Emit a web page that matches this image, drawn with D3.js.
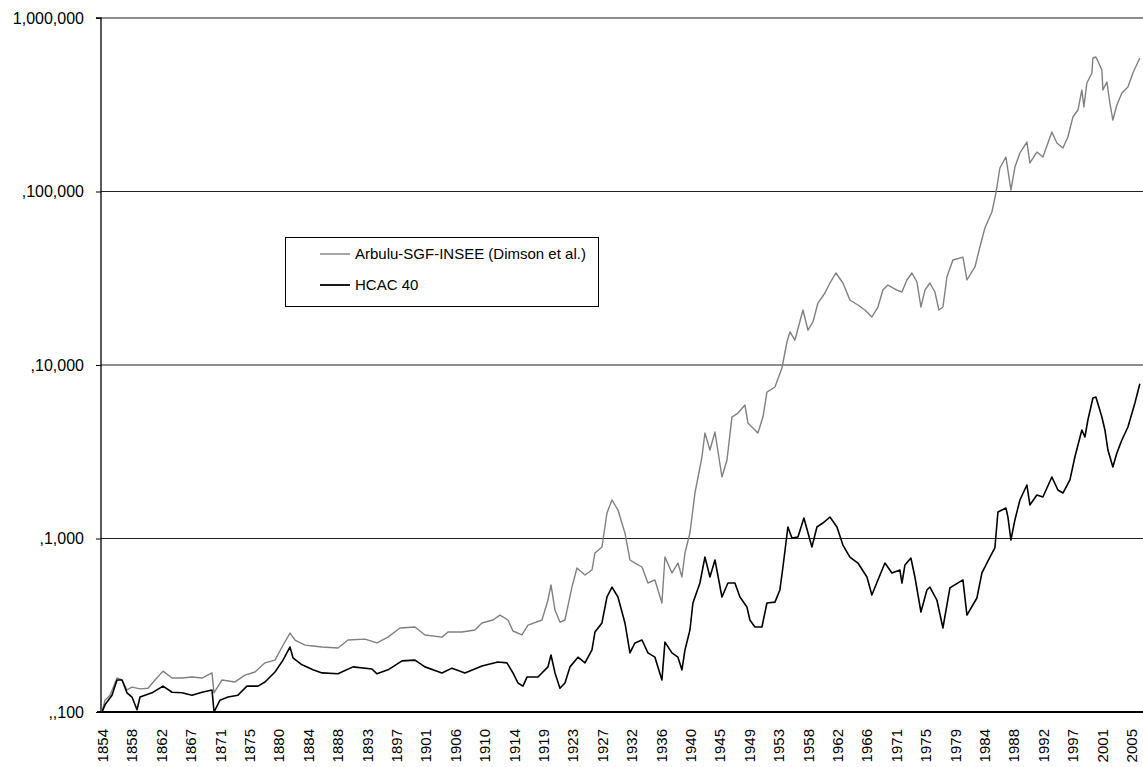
<!DOCTYPE html>
<html><head><meta charset="utf-8">
<script src="https://cdn.jsdelivr.net/npm/d3@7/dist/d3.min.js"></script>
<style>
html,body{margin:0;padding:0;background:#fff;}
svg{display:block;font-family:"Liberation Sans",Arial,sans-serif;}
</style></head>
<body>
<svg id="chart" width="1143" height="767"></svg>
<script>
// ---- DATA ----
const seriesNames = ["Arbulu-SGF-INSEE (Dimson et al.)", "HCAC 40"];
const yTickValues = [1000000, 100000, 10000, 1000, 100];
const yTickLabels = ["1,000,000", ",100,000", ",10,000", ",1,000", ",,100"];
const xTickLabels = ["1854","1858","1862","1867","1871","1875","1880","1884","1888","1893","1897","1901","1906","1910","1914","1919","1923","1927","1932","1936","1940","1945","1949","1953","1958","1962","1966","1971","1975","1979","1984","1988","1992","1997","2001","2005"];

const grayYears = [1854.0,1854.44,1855.18,1856.21,1856.95,1857.68,1858.42,1859.6,1860.78,1861.81,1862.99,1864.32,1865.79,1867.26,1868.74,1870.21,1870.51,1871.69,1873.6,1875.08,1876.55,1878.02,1879.5,1880.53,1881.71,1882.45,1883.92,1885.1,1886.42,1888.78,1890.26,1892.76,1894.53,1896.15,1897.92,1900.13,1901.6,1904.11,1905.0,1907.06,1908.97,1910.0,1911.63,1912.66,1913.84,1914.57,1915.9,1916.79,1918.85,1919.73,1920.18,1920.77,1921.5,1922.24,1923.27,1924.01,1925.19,1926.22,1926.66,1927.69,1928.43,1929.17,1930.05,1931.08,1931.82,1932.56,1933.59,1934.47,1935.5,1936.53,1936.98,1938.01,1938.89,1939.48,1939.93,1940.66,1941.4,1942.43,1942.87,1943.61,1944.35,1945.38,1946.12,1946.85,1947.74,1948.77,1949.21,1950.68,1951.42,1952.01,1953.19,1954.22,1954.96,1955.4,1956.14,1957.32,1958.05,1958.79,1959.53,1960.56,1961.3,1962.18,1963.21,1964.24,1965.42,1966.45,1967.48,1968.37,1969.1,1969.84,1971.17,1971.91,1972.64,1973.38,1974.12,1974.71,1975.3,1976.03,1976.77,1977.36,1977.95,1978.54,1979.42,1980.9,1981.49,1982.67,1983.4,1984.14,1985.17,1985.76,1986.35,1987.24,1987.97,1988.56,1989.3,1990.33,1990.77,1991.8,1992.69,1994.01,1994.75,1995.64,1996.37,1997.11,1997.85,1998.43,1998.73,1999.17,1999.91,2000.06,2000.5,2001.38,2001.53,2002.12,2002.56,2003.0,2003.59,2004.33,2005.22,2005.95,2006.98];
const grayValues = [100,117,125,157,153,134,139,136,137,153,172,157,157,159,157,168,129,153,149,163,170,192,199,237,285,260,243,240,237,234,260,263,250,270,305,309,278,270,289,289,297,326,339,362,339,293,278,317,339,442,540,387,330,339,525,676,616,658,825,893,1403,1667,1459,1076,752,722,685,554,577,425,782,633,722,600,825,1076,1829,2950,4055,3236,4110,2262,2833,5012,5285,5875,4630,4055,5012,6985,7465,9610,13570,15500,13930,20750,15910,17700,22760,26000,29700,33900,29700,23700,22170,20750,18910,21580,27040,28900,27040,26350,30900,33900,30090,21580,27040,29700,26350,20750,21580,32140,40270,41880,30900,36720,47860,61600,76170,98000,136600,158000,102000,138400,166700,192800,146000,168900,158000,220300,190300,178100,206100,268800,294900,384600,306900,422000,481900,588000,596000,501000,384600,427600,323600,258200,315200,369600,400300,481900,588000];

const blackYears = [1854.0,1854.44,1855.47,1856.21,1856.95,1857.68,1858.42,1859.16,1859.6,1861.37,1862.99,1864.32,1865.79,1867.26,1868.74,1870.21,1870.51,1871.39,1872.57,1874.04,1875.37,1876.99,1878.02,1879.5,1880.68,1881.71,1882.15,1883.48,1885.1,1886.42,1888.78,1890.99,1893.79,1894.53,1896.15,1898.22,1900.13,1901.6,1904.11,1905.58,1907.5,1910.0,1912.36,1913.69,1914.57,1915.31,1916.05,1916.64,1918.26,1919.73,1920.18,1920.77,1921.5,1922.24,1922.98,1924.16,1925.19,1926.22,1926.66,1927.69,1928.43,1929.17,1930.05,1931.08,1931.82,1932.56,1933.59,1934.47,1935.5,1936.53,1936.98,1938.01,1938.89,1939.48,1939.93,1940.66,1941.1,1942.13,1942.87,1943.61,1944.35,1945.38,1946.26,1947.29,1948.03,1949.06,1949.5,1950.24,1951.27,1952.01,1953.19,1953.92,1954.37,1955.1,1955.69,1956.58,1957.46,1958.64,1959.38,1960.26,1961.3,1962.33,1963.21,1964.24,1965.42,1966.75,1967.48,1968.37,1969.4,1970.43,1971.61,1971.91,1972.35,1973.23,1973.82,1974.71,1975.59,1976.03,1977.06,1977.95,1978.98,1980.9,1981.49,1982.96,1983.7,1984.88,1985.61,1986.06,1987.24,1987.53,1987.97,1988.56,1989.3,1990.33,1990.77,1991.8,1992.69,1994.01,1994.9,1995.64,1996.67,1997.4,1998.43,1998.88,1999.32,2000.06,2000.5,2001.38,2001.83,2002.27,2003.0,2003.59,2004.33,2005.22,2006.25,2006.98];
const blackValues = [100,110,125,153,153,129,122,103,122,129,141,130,129,125,130,134,100,117,122,125,141,141,149,170,199,237,205,187,175,168,166,182,177,166,175,197,199,182,168,179,168,184,194,192,168,147,141,159,159,182,213,168,137,147,182,207,192,228,289,326,460,525,460,326,219,250,260,219,207,153,253,219,207,175,228,297,425,554,782,600,752,460,554,554,460,403,339,309,309,425,430,505,685,1165,1007,1020,1313,893,1165,1228,1330,1165,917,782,722,600,472,577,722,633,658,554,703,772,600,377,505,525,442,305,519,577,362,454,633,782,882,1421,1499,1330,980,1279,1667,2034,1560,1781,1734,2262,1903,1829,2175,2950,4221,3846,4820,6450,6540,5012,4221,3236,2582,3111,3696,4391,6040,7800];

// ---- CHART ----
const svg = d3.select("#chart");
const plotLeft = 101, plotRight = 1140, plotTop = 18, plotBottom = 712;

const x = d3.scaleLinear().domain([1853.85, 2007.0]).range([plotLeft, plotRight]);
const y = d3.scaleLog().domain([100, 1000000]).range([plotBottom, plotTop]);

// grid lines
svg.append("g").selectAll("line")
  .data(yTickValues.filter(v => v > 100))
  .join("line")
  .attr("x1", plotLeft).attr("x2", plotRight + 3)
  .attr("y1", d => y(d)).attr("y2", d => y(d))
  .attr("stroke", d => d === 1000000 ? "#666" : "#222")
  .attr("stroke-width", d => d === 1000000 ? 1.6 : 1.2);

// y axis
const yAxis = d3.axisLeft(y)
  .tickValues(yTickValues)
  .tickFormat(d => yTickLabels[yTickValues.indexOf(d)])
  .tickSize(5).tickPadding(12);
const gy = svg.append("g").attr("transform", `translate(${plotLeft},0)`).call(yAxis);
gy.select(".domain").attr("stroke", "#000").attr("stroke-width", 1.3).attr("d", `M-5,${plotTop}H0V${plotBottom}`);
gy.selectAll(".tick line").attr("stroke", "#000");
gy.selectAll(".tick text").attr("font-size", "16px").attr("fill", "#000")
  .attr("font-family", "'Liberation Sans', Arial, sans-serif");

// x axis
const xTickPos = xTickLabels.map((l, i) => 1854 + i * 52 / 12 + 1 / 24);
const xAxis = d3.axisBottom(x)
  .tickValues(xTickPos)
  .tickFormat((d, i) => xTickLabels[i])
  .tickSize(0);
const gx = svg.append("g").attr("transform", `translate(0,${plotBottom})`).call(xAxis);
gx.select(".domain").attr("stroke", "#000").attr("stroke-width", 2).attr("d", `M${plotLeft - 4},0H1143`);
gx.selectAll(".tick text")
  .attr("font-size", "15px").attr("fill", "#000")
  .attr("font-family", "'Liberation Sans', Arial, sans-serif")
  .attr("transform", "rotate(-90)")
  .attr("text-anchor", "end")
  .attr("x", -17).attr("y", 0).attr("dy", "0.35em");

// lines
const line = d3.line().x(d => x(d[0])).y(d => y(d[1]));
const grayData = grayYears.map((yr, i) => [yr, grayValues[i]]);
const blackData = blackYears.map((yr, i) => [yr, blackValues[i]]);

svg.append("path").datum(grayData).attr("d", line)
  .attr("fill", "none").attr("stroke", "#808080").attr("stroke-width", 1.4).attr("stroke-linejoin", "round");
svg.append("path").datum(blackData).attr("d", line)
  .attr("fill", "none").attr("stroke", "#000").attr("stroke-width", 1.6).attr("stroke-linejoin", "round");

// legend
const lg = svg.append("g");
lg.append("rect").attr("x", 285.5).attr("y", 237.5).attr("width", 313).attr("height", 69)
  .attr("fill", "#fff").attr("stroke", "#000").attr("stroke-width", 1);
const legendColors = ["#808080", "#000"];
const legendWidths = [1.4, 1.8];
seriesNames.forEach((name, i) => {
  const ly = 254 + i * 31;
  lg.append("line").attr("x1", 320).attr("x2", 350).attr("y1", ly).attr("y2", ly)
    .attr("stroke", legendColors[i]).attr("stroke-width", legendWidths[i]);
  lg.append("text").attr("x", 355).attr("y", ly).attr("dy", "0.36em")
    .attr("font-size", "15px").attr("fill", "#000").text(name);
});
</script>
</body></html>
